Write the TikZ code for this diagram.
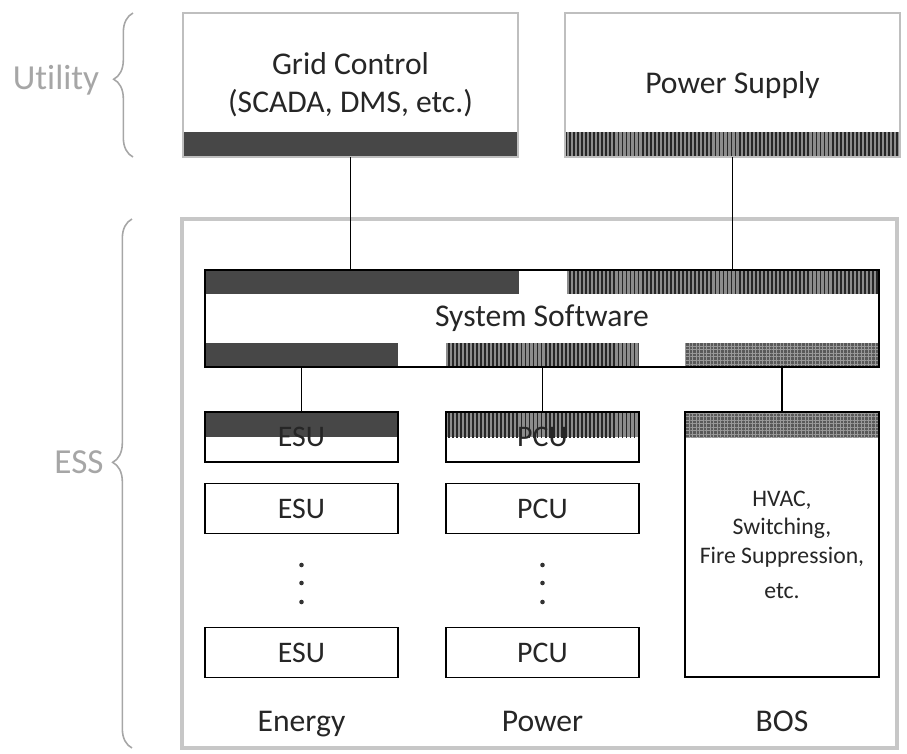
\documentclass[tikz,border=0pt]{standalone}
\usepackage{fontspec}
\setmainfont{Carlito}[Ligatures=NoCommon]
\usepackage{tikz}
\usetikzlibrary{backgrounds,patterns.meta,decorations.pathreplacing,positioning}
\tikzset{
    topbox/.style={draw=black!25,line width=0.9pt,outer sep=0pt,inner sep=0pt,
        minimum width=67mm,minimum height=28.8mm,align=center},
    swbox/.style={draw=black,line width=1.1pt,outer sep=0pt,inner sep=0pt,
        minimum width=134.8mm,minimum height=19.4mm},
    unitbox/.style={draw=black,line width=1.1pt,outer sep=0pt,inner sep=0pt,
        minimum width=38.6mm,minimum height=10mm,font=\fontsize{17}{20}\selectfont},
    essframe/.style={draw=black!22,line width=2.8pt,outer sep=0pt,inner sep=0pt},
    strip/.style={outer sep=0pt,inner sep=0pt,minimum height=5mm},
    darkbar/.style={fill=black!72},
    hatchbar/.style={fill=black!45,postaction={pattern={Lines[angle=90,distance=2.3pt,line width=1pt]},pattern color=black!85}},
    dotbar/.style={fill=black!65,postaction={pattern={Hatch[distance=2pt,line width=0.4pt]},pattern color=black!40}},
    link/.style={line width=1.1pt,draw=black},
    sidebrace/.style={draw=black!35,line width=0.9pt,decorate,
        decoration={brace,amplitude=11pt,aspect=0.54}},
    sidelabel/.style={text=black!35,font=\fontsize{20}{24}\selectfont},
    every node/.style={text=black!85,font=\fontsize{18}{21.6}\selectfont}
}

\begin{document}
\begin{tikzpicture}[x=0.2mm,y=-0.2mm]
  \useasboundingbox (0,0) rectangle (907,754);

  % utility
  \node[topbox] (grid) at (350.5,85) {Grid Control\\(SCADA, DMS, etc.)};
  \node[topbox] (supply) at (732.5,85) {Power Supply};
  \begin{scope}[on background layer]
    \node[strip,darkbar,minimum width=67mm,anchor=south] (gridbar) at (grid.south) {};
    \node[strip,hatchbar,minimum width=67mm,anchor=south] (supplybar) at (supply.south) {};
  \end{scope}
  \draw[sidebrace] ([xshift=-10mm]grid.south west) -- ([xshift=-10mm]grid.north west);
  \node[sidelabel] (utility) at (56,80) {Utility};

  % ess
  \node[essframe,minimum width=143mm,minimum height=105.8mm] (ess) at (539.5,483.5) {};
  \draw[sidebrace] ([xshift=-10mm]ess.south west) -- ([xshift=-10mm]ess.north west);
  \node[sidelabel] (esslabel) at (79,462) {ESS};

  % system software
  \node[swbox] (sw) at (542,318.5) {System Software};
  \begin{scope}[on background layer]
    \node[strip,darkbar,minimum width=62.8mm,minimum height=4.7mm,anchor=north west] (swgrid) at (sw.north west) {};
    \node[strip,hatchbar,minimum width=62.4mm,minimum height=4.7mm,anchor=north east] (swsupply) at (sw.north east) {};
    \node[strip,darkbar,minimum width=38.6mm,minimum height=4.8mm,anchor=south west] (swenergy) at (sw.south west) {};
    \node[strip,hatchbar,minimum width=38.6mm,minimum height=4.8mm,anchor=south] (swpower) at (sw.south) {};
    \node[strip,dotbar,minimum width=38.8mm,minimum height=4.8mm,anchor=south east] (swbos) at (sw.south east) {};
  \end{scope}
  \draw[link] (gridbar.south) -- (gridbar.south |- sw.north);
  \draw[link] (supplybar.south) -- (supplybar.south |- sw.north);

  % energy and power columns
  \foreach \nm/\x/\lab in {esu/301.5/ESU,pcu/542.5/PCU}{
    \node[unitbox] (\nm1) at (\x,437) {\lab};
    \node[unitbox] (\nm2) at (\x,508.5) {\lab};
    \node[unitbox] (\nm3) at (\x,652.5) {\lab};
    \foreach \y in {565,583,602}
      \fill[black!80] (\x,\y) circle (1.3pt);
    \draw[link] (\nm1.north) -- (\nm1.north |- sw.south);
  }
  \begin{scope}[on background layer]
    \node[strip,darkbar,minimum width=38.6mm,anchor=north] (esubar) at (esu1.north) {};
    \node[strip,hatchbar,minimum width=38.6mm,anchor=north] (pcubar) at (pcu1.north) {};
  \end{scope}

  % bos column
  \node[unitbox,minimum width=38.8mm,minimum height=53mm] (bos) at (782,544.5) {};
  \begin{scope}[on background layer]
    \node[strip,dotbar,minimum width=38.8mm,anchor=north] (bosbar) at (bos.north) {};
  \end{scope}
  \node[align=center,font=\fontsize{13.5}{16.2}\selectfont] (bostxt) at (782,545)
    {HVAC,\\Switching,\\Fire Suppression,\\[4pt]etc.};
  \draw[link] (bos.north) -- (bos.north |- sw.south);

  % column names
  \node[anchor=base] (energy) at (301.5,731) {Energy};
  \node[anchor=base] (power) at (542.5,731) {Power};
  \node[anchor=base] (bosname) at (782,731) {BOS};
\end{tikzpicture}
\end{document}
